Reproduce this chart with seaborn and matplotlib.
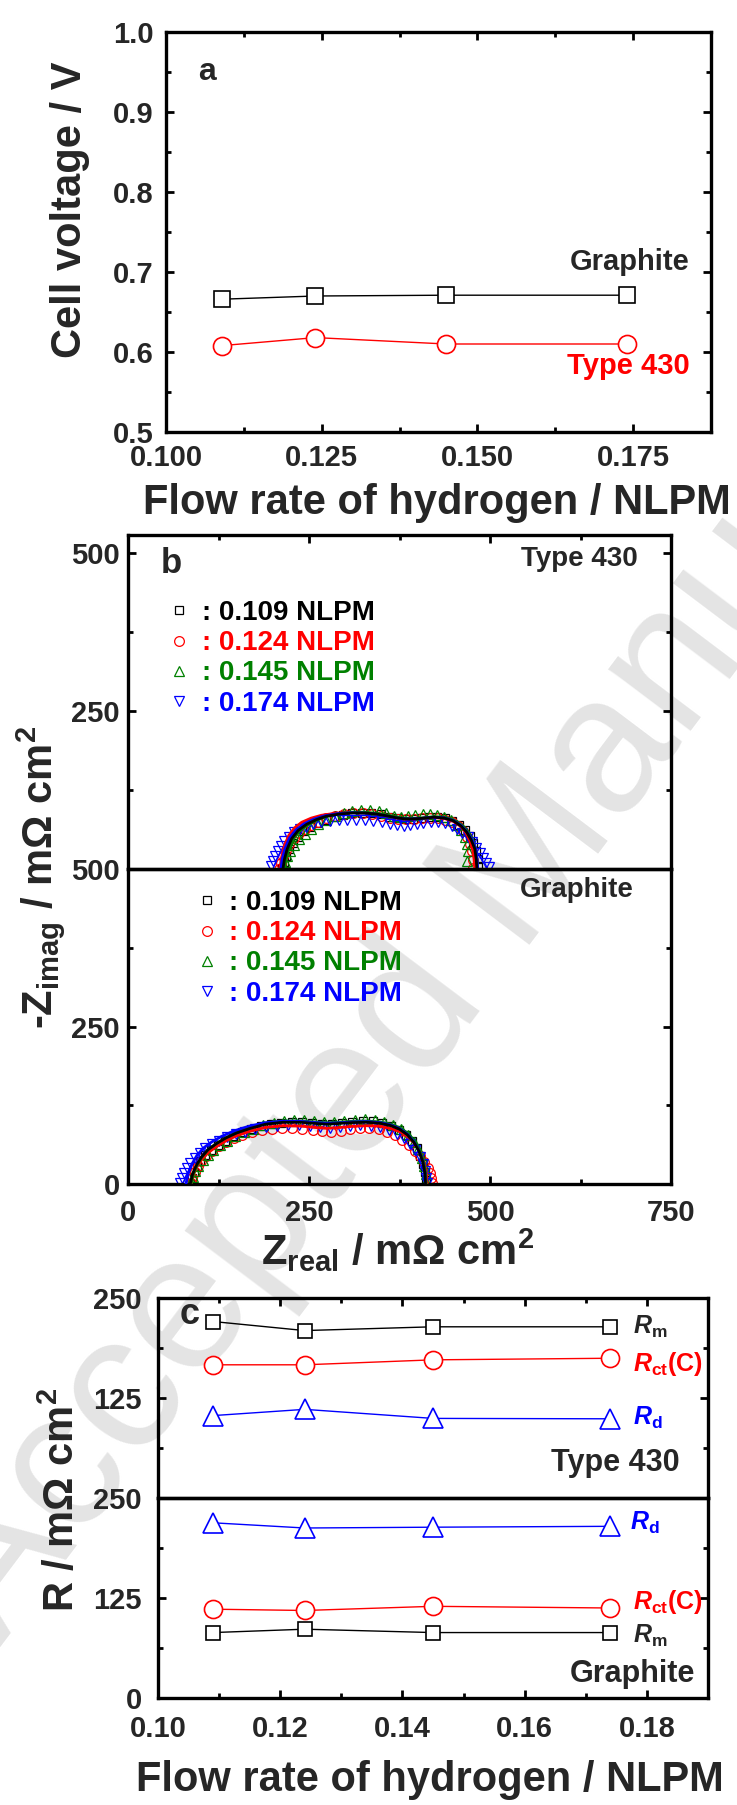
import matplotlib
matplotlib.use("Agg")
import matplotlib.pyplot as plt
import seaborn as sns
import numpy as np
import pandas as pd
from matplotlib.ticker import MultipleLocator, FixedLocator, FormatStrFormatter, NullFormatter

sns.set_theme(style="ticks")
plt.rcParams["font.family"] = ["Liberation Sans", "DejaVu Sans"]
plt.rcParams["font.weight"] = "bold"
plt.rcParams["mathtext.fontset"] = "custom"
plt.rcParams["mathtext.rm"] = "Liberation Sans:bold"
plt.rcParams["mathtext.bf"] = "Liberation Sans:bold"
plt.rcParams["mathtext.it"] = "Liberation Sans:bold:italic"

# ---------------- data ----------------
flow = [0.109, 0.124, 0.145, 0.174]
volt_graphite = [0.666, 0.670, 0.671, 0.671]
volt_430 = [0.608, 0.618, 0.610, 0.610]

c430_Rm = [220.6, 209.3, 214.0, 214.0]
c430_Rct = [166.5, 166.5, 172.7, 174.7]
c430_Rd = [103.0, 110.8, 99.5, 99.0]
cgr_Rd = [219.0, 212.5, 213.5, 214.6]
cgr_Rct = [111.0, 109.4, 114.6, 112.5]
cgr_Rm = [81.8, 86.0, 81.8, 81.8]

legend_labels = [": 0.109 NLPM", ": 0.124 NLPM", ": 0.145 NLPM", ": 0.174 NLPM"]

# Type 430 Nyquist: fitted lines
t430_fit_k_zr = [214, 216, 220, 226, 235, 247, 260, 274, 292, 311, 328, 343, 358, 371, 381, 390, 405, 422, 437, 449, 460, 468, 474, 479, 481, 482]
t430_fit_k_zi = [0, 15, 32, 48, 61, 71, 78, 83.5, 87, 88.7, 88.5, 87, 84, 81, 79.5, 79, 80, 82, 80.5, 76.5, 68, 58, 46, 32, 15, 0]
t430_fit_r_zr = [210, 212, 216, 222, 230, 240, 253, 267, 285, 305, 325, 343, 358, 371, 383, 393, 408, 423, 438, 450, 460, 467, 472, 476, 478, 479]
t430_fit_r_zi = [0, 18, 37, 53, 65, 74, 80.5, 85, 88, 89.5, 89, 87, 83.5, 80.5, 79, 79, 80.5, 81.5, 79.5, 75, 67, 57, 45, 31, 15, 0]
t430_fit_g_zr = [216, 218, 222, 228, 237, 249, 262, 276, 294, 313, 330, 345, 360, 373, 383, 392, 407, 424, 439, 451, 462, 470, 476, 480, 482, 483]
t430_fit_g_zi = [0, 14, 31, 47, 60, 70, 78, 84, 88, 90, 89.5, 88, 85, 82, 80.5, 80, 81, 83, 81.5, 77, 69, 59, 47, 33, 16, 0]
t430_fit_b_zr = [211, 213, 217, 223, 232, 244, 257, 271, 289, 308, 326, 341, 356, 369, 380, 389, 404, 421, 436, 449, 460, 468, 475, 480, 482, 483]
t430_fit_b_zi = [0, 16, 33, 49, 62, 72, 79, 84, 87.5, 89, 88.5, 87, 84, 81, 79.5, 79, 80, 82, 81, 77, 69, 59, 47, 33, 16, 0]

# Type 430 Nyquist: measured points
t430_k_zr = [213, 215, 218, 222, 228, 235, 243, 252, 262, 273, 285, 297, 310, 323, 336, 349, 361, 372, 383, 394, 405, 416, 427, 438, 448, 457, 465, 472, 477, 481, 483, 484]
t430_k_zi = [1, 11, 21, 31, 41, 51, 60, 67, 73, 78, 82, 85.5, 88, 89, 88.5, 86.5, 83, 80.5, 79.5, 79.5, 80.5, 82, 82, 80, 76, 70, 62, 52, 41, 29, 16, 4]
t430_r_zr = [209, 211, 214, 218, 223, 229, 236, 244, 253, 263, 274, 286, 298, 311, 324, 337, 350, 362, 373, 384, 395, 406, 417, 428, 438, 448, 456, 463, 468, 472, 475, 476, 476]
t430_r_zi = [0, 10, 20, 30, 40, 49, 57, 64, 70, 75, 80, 84, 87, 88.5, 88.5, 87, 84, 81, 79, 78.5, 79, 80, 81, 80.5, 78, 74, 68, 60, 51, 40, 28, 15, 2]
t430_g_zr = [215, 217, 220, 224, 229, 236, 244, 253, 263, 274, 286, 298, 310, 322, 334, 346, 357, 367, 377, 387, 397, 407, 417, 427, 437, 446, 454, 460, 465, 468, 469, 468]
t430_g_zi = [2, 11, 20, 29, 38, 47, 56, 64, 71, 78, 84, 88, 91, 93, 94, 92, 88, 84, 83, 84, 86, 87, 87, 85, 82, 77, 70, 61, 51, 40, 28, 12]
t430_b_zr = [197, 200, 203, 207, 211, 216, 222, 229, 237, 246, 256, 267, 279, 291, 303, 315, 327, 339, 351, 362, 372, 381, 390, 399, 408, 418, 428, 438, 447, 455, 462, 469, 475, 481, 486, 491, 495, 498]
t430_b_zi = [4, 12, 20, 28, 36, 44, 51, 58, 63, 67, 71, 74, 76, 77.5, 78, 78, 77.5, 76, 74, 71, 69, 68.5, 69, 71, 73, 74, 74, 72, 68, 63, 57, 50, 42, 34, 26, 18, 10, 3]

# Graphite Nyquist: fitted lines
gr_fit_k_zr = [86, 89, 94, 101, 110, 122, 135, 150, 168, 190, 214, 238, 260, 275, 290, 310, 330, 348, 362, 375, 386, 395, 402, 407, 410, 411]
gr_fit_k_zi = [0, 15, 29, 42, 54, 64, 73, 81, 88, 95, 98, 98, 96, 95, 96, 97.5, 98, 96.5, 93, 87, 78, 66, 52, 36, 18, 0]
gr_fit_r_zr = [87, 90, 95, 102, 111, 123, 136, 151, 169, 191, 214, 238, 260, 275, 290, 310, 330, 348, 363, 376, 387, 396, 404, 409, 412, 413]
gr_fit_r_zi = [0, 14, 27, 39, 50, 60, 69, 77, 84, 90, 92.5, 92, 89.5, 88.5, 89.5, 91.5, 92.5, 91.5, 88, 83, 75, 64, 50, 35, 18, 0]
gr_fit_g_zr = [87, 90, 95, 102, 111, 123, 136, 151, 169, 191, 214, 238, 260, 275, 290, 310, 330, 348, 363, 376, 387, 396, 403, 408, 411, 412]
gr_fit_g_zi = [0, 15, 29, 43, 55, 65, 74, 82, 90, 97, 100, 100, 98, 97, 98, 99.5, 100, 98.5, 95, 89, 80, 68, 53, 37, 18, 0]
gr_fit_b_zr = [80, 83, 88, 95, 104, 116, 130, 146, 165, 188, 212, 236, 258, 274, 290, 310, 330, 348, 362, 375, 386, 395, 402, 407, 410, 411]
gr_fit_b_zi = [0, 16, 31, 45, 57, 67, 76, 84, 91, 97, 99.5, 99.5, 97.5, 96.5, 97, 98.5, 99, 97.5, 94, 88, 79, 67, 52, 36, 18, 0]

# Graphite Nyquist: measured points
gr_k_zr = [86, 88, 91, 95, 100, 107, 115, 124, 134, 145, 157, 170, 184, 198, 212, 226, 240, 254, 268, 282, 296, 310, 324, 338, 351, 363, 374, 384, 392, 399, 404, 408, 410, 411]
gr_k_zi = [1, 10, 19, 28, 37, 46, 54, 62, 69, 76, 82, 87, 91.5, 95, 97, 98, 98, 97, 95.5, 95.5, 97, 99, 100, 99.5, 97, 92, 86, 78, 68, 57, 45, 32, 19, 6]
gr_r_zr = [87, 89, 92, 96, 101, 108, 116, 125, 135, 146, 158, 171, 185, 199, 213, 227, 241, 255, 268, 281, 294, 307, 320, 333, 346, 358, 369, 379, 388, 396, 403, 409, 414, 417, 419, 420]
gr_r_zi = [1, 10, 19, 28, 37, 45, 53, 60, 67, 73, 78, 82, 85.5, 88, 89, 89, 88, 86, 84, 83, 84.5, 87, 88.5, 88.5, 87, 83, 77, 70, 62, 53, 44, 35, 26, 17, 9, 2]
gr_g_zr = [88, 90, 93, 97, 103, 110, 118, 127, 137, 148, 160, 173, 187, 201, 215, 229, 243, 257, 271, 285, 299, 313, 327, 341, 354, 366, 377, 387, 395, 401, 406, 409, 411, 412]
gr_g_zi = [2, 11, 20, 29, 38, 46, 54, 62, 69, 76, 82, 88, 93, 97, 100, 102, 102, 100, 98, 98, 100, 102, 103, 102, 99, 94, 87, 78, 67, 55, 42, 29, 16, 4]
gr_b_zr = [72, 74, 77, 81, 86, 92, 99, 107, 116, 126, 137, 149, 162, 176, 191, 206, 221, 236, 251, 265, 279, 293, 307, 321, 335, 348, 360, 371, 381, 390, 397, 403, 407, 410, 412, 413]
gr_b_zi = [2, 10, 18, 26, 34, 42, 50, 57, 63, 69, 74, 79, 83, 87, 90, 92, 93, 93, 92, 90, 89, 90, 92, 93, 92.5, 90, 86, 80, 73, 64, 54, 43, 32, 20, 10, 2]

# ---------------- styling ----------------
W, H = 737, 1805
fig = plt.figure(figsize=(W / 100, H / 100), dpi=100)

RED, GREEN, BLUE, BLACK = "#ff0000", "#008000", "#0000ff", "#000000"
SPW = 2.4
TICK_FS = 21


def box(left, top, right, bottom):
    return [left / W, 1 - bottom / H, (right - left) / W, (bottom - top) / H]


def style_axes(ax, xpad, ypad):
    ax.set_facecolor("none")
    for s in ax.spines.values():
        s.set_linewidth(SPW)
        s.set_color("black")
        s.set_visible(True)
    ax.tick_params(which="both", direction="in", top=True, right=True, color="black")
    ax.tick_params(which="major", length=6, width=2)
    ax.tick_params(which="minor", length=3.5, width=2)
    ax.tick_params(axis="x", which="major", pad=xpad, labelsize=TICK_FS)
    ax.tick_params(axis="y", which="major", pad=ypad, labelsize=TICK_FS)
    for lab in ax.get_xticklabels() + ax.get_yticklabels():
        lab.set_fontweight("bold")
    ax.set_xlabel("")
    ax.set_ylabel("")


# watermark (background)
fig.text(0 / W, 1 - 1648 / H, "Accepted Manuscript", rotation=53, rotation_mode="anchor",
         ha="left", va="baseline", fontsize=140, fontweight="normal", color="#e4e4e4",
         zorder=-5)

# ---------------- panel a ----------------
axa = fig.add_axes(box(166, 32, 711, 432))
df_a = pd.DataFrame({"flow": flow, "graphite": volt_graphite, "t430": volt_430})
sns.lineplot(data=df_a, x="flow", y="graphite", ax=axa, color=BLACK, lw=1,
             marker="s", markersize=11, markerfacecolor="white",
             markeredgecolor=BLACK, markeredgewidth=1.2, estimator=None, sort=False)
sns.lineplot(data=df_a, x="flow", y="t430", ax=axa, color=RED, lw=1,
             marker="o", markersize=13, markerfacecolor="white",
             markeredgecolor=RED, markeredgewidth=1.2, estimator=None, sort=False)
axa.set_xlim(0.1, 0.1875)
axa.set_ylim(0.5, 1.0)
axa.xaxis.set_major_locator(FixedLocator([0.1, 0.125, 0.15, 0.175]))
axa.xaxis.set_minor_locator(FixedLocator([0.1125, 0.1375, 0.1625]))
axa.xaxis.set_major_formatter(FormatStrFormatter("%.3f"))
axa.yaxis.set_major_locator(MultipleLocator(0.1))
axa.yaxis.set_minor_locator(MultipleLocator(0.05))
axa.yaxis.set_major_formatter(FormatStrFormatter("%.1f"))
style_axes(axa, 9, 9)
axa.text(0.1066, 0.950, "a", ha="center", va="center", fontsize=23, fontweight="bold")
axa.text(0.1841, 0.712, "Graphite", ha="right", va="center", fontsize=21, fontweight="bold")
axa.text(0.1841, 0.583, "Type 430", ha="right", va="center", fontsize=21,
         fontweight="bold", color=RED)
fig.text(70 / W, 1 - 210 / H, "Cell voltage / V", rotation=90, ha="center", va="center",
         fontsize=30, fontweight="bold")
fig.text(437 / W, 1 - 503 / H, "Flow rate of hydrogen / NLPM", ha="center", va="center",
         fontsize=30, fontweight="bold")

# ---------------- panel b ----------------
axb1 = fig.add_axes(box(128, 535, 671, 869))
axb2 = fig.add_axes(box(128, 869, 671, 1184))

specs = [(BLACK, "s", 6), (RED, "o", 7), (GREEN, "^", 7.5), (BLUE, "v", 7.5)]


def nyquist(ax, pts, fits):
    handles = []
    for (zr, zi), (col, mk, ms), lab in zip(pts, specs, legend_labels):
        h, = ax.plot(zr, zi, ls="none", marker=mk, ms=ms, mfc="none", mec=col, mew=0.9,
                     label=lab, zorder=2)
        handles.append(h)
    for (zr, zi), col in zip(fits, [RED, GREEN, BLUE, BLACK]):
        df = pd.DataFrame({"zr": zr, "zi": zi})
        sns.lineplot(data=df, x="zr", y="zi", ax=ax, color=col, lw=2, sort=False,
                     estimator=None, zorder=3)
    return handles


h1 = nyquist(axb1,
             [(t430_k_zr, t430_k_zi), (t430_r_zr, t430_r_zi), (t430_g_zr, t430_g_zi), (t430_b_zr, t430_b_zi)],
             [(t430_fit_r_zr, t430_fit_r_zi), (t430_fit_g_zr, t430_fit_g_zi),
              (t430_fit_b_zr, t430_fit_b_zi), (t430_fit_k_zr, t430_fit_k_zi)])
h2 = nyquist(axb2,
             [(gr_k_zr, gr_k_zi), (gr_r_zr, gr_r_zi), (gr_g_zr, gr_g_zi), (gr_b_zr, gr_b_zi)],
             [(gr_fit_r_zr, gr_fit_r_zi), (gr_fit_g_zr, gr_fit_g_zi),
              (gr_fit_b_zr, gr_fit_b_zi), (gr_fit_k_zr, gr_fit_k_zi)])

for ax in (axb1, axb2):
    ax.set_xlim(0, 750)
    ax.xaxis.set_major_locator(MultipleLocator(250))
    ax.xaxis.set_minor_locator(MultipleLocator(125))
axb1.set_ylim(0, 528.5)
axb1.yaxis.set_major_locator(FixedLocator([0, 250, 500]))
axb1.yaxis.set_minor_locator(FixedLocator([125, 375]))
axb2.set_ylim(0, 500)
axb2.yaxis.set_major_locator(FixedLocator([0, 250, 500]))
axb2.yaxis.set_minor_locator(FixedLocator([125, 375]))
style_axes(axb1, 11, 6)
style_axes(axb2, 11, 6)
axb1.tick_params(axis="x", which="both", bottom=False, labelbottom=False)
axb1.yaxis.set_major_formatter(plt.FuncFormatter(lambda v, p: "" if v == 0 else f"{v:.0f}"))
axb2.tick_params(axis="x", which="both", top=False)

colors4 = [BLACK, RED, GREEN, BLUE]
leg1 = axb1.legend(handles=h1, loc="upper left", bbox_to_anchor=(0.069, 0.805),
                   frameon=False, labelcolor=colors4, handlelength=1.0,
                   handletextpad=0.3, labelspacing=0.15, borderpad=0, borderaxespad=0,
                   prop={"weight": "bold", "size": 20})
leg2 = axb2.legend(handles=h2, loc="upper left", bbox_to_anchor=(0.12, 0.933),
                   frameon=False, labelcolor=colors4, handlelength=1.0,
                   handletextpad=0.3, labelspacing=0.15, borderpad=0, borderaxespad=0,
                   prop={"weight": "bold", "size": 20})

axb1.text(60, 484, "b", ha="center", va="center", fontsize=25, fontweight="bold")
axb1.text(704, 490, "Type 430", ha="right", va="center", fontsize=20, fontweight="bold")
axb2.text(699, 466, "Graphite", ha="right", va="center", fontsize=20, fontweight="bold")

fig.text(41 / W, 1 - 877 / H, r"-$\mathrm{Z_{imag}}$ / m$\Omega$ cm$^{\mathrm{2}}$", rotation=90,
         ha="center", va="center", fontsize=30, fontweight="bold")
fig.text(398 / W, 1 - 1250 / H, r"$\mathrm{Z_{real}}$ / m$\Omega$ cm$^{\mathrm{2}}$",
         ha="center", va="center", fontsize=30, fontweight="bold")

# ---------------- panel c ----------------
axc1 = fig.add_axes(box(158, 1298, 708, 1498))
axc2 = fig.add_axes(box(158, 1498, 708, 1698))


def rplot(ax, vals, col, mk, ms):
    df = pd.DataFrame({"flow": flow, "r": vals})
    sns.lineplot(data=df, x="flow", y="r", ax=ax, color=col, lw=1, marker=mk, markersize=ms,
                 markerfacecolor="white", markeredgecolor=col, markeredgewidth=1.2,
                 estimator=None, sort=False)


rplot(axc1, c430_Rm, BLACK, "s", 10.5)
rplot(axc1, c430_Rct, RED, "o", 13)
rplot(axc1, c430_Rd, BLUE, "^", 14)
rplot(axc2, cgr_Rd, BLUE, "^", 14)
rplot(axc2, cgr_Rct, RED, "o", 13)
rplot(axc2, cgr_Rm, BLACK, "s", 10.5)

for ax in (axc1, axc2):
    ax.set_xlim(0.10, 0.19)
    ax.set_ylim(0, 250)
    ax.xaxis.set_major_locator(FixedLocator([0.10, 0.12, 0.14, 0.16, 0.18]))
    ax.xaxis.set_minor_locator(FixedLocator([0.11, 0.13, 0.15, 0.17]))
    ax.xaxis.set_major_formatter(FormatStrFormatter("%.2f"))
    ax.yaxis.set_major_locator(FixedLocator([0, 125, 250]))
    ax.yaxis.set_minor_locator(FixedLocator([62.5, 187.5]))
style_axes(axc1, 12, 11.5)
style_axes(axc2, 12, 11.5)
axc1.tick_params(axis="x", which="both", bottom=False, labelbottom=False)
axc1.yaxis.set_major_formatter(plt.FuncFormatter(lambda v, p: "" if v == 0 else f"{v:.0f}"))
axc2.tick_params(axis="x", which="both", top=False)

axc1.text(0.1035, 229, "c", ha="left", va="center", fontsize=26, fontweight="bold")
axc1.text(0.1777, 214, r"$R_\mathrm{m}$", ha="left", va="center", fontsize=18)
axc1.text(0.1777, 167.5, r"$R_\mathrm{ct}$(C)", ha="left", va="center", fontsize=18,
          color=RED, fontweight="bold")
axc1.text(0.1777, 100.5, r"$R_\mathrm{d}$", ha="left", va="center", fontsize=18, color=BLUE)
axc1.text(0.1854, 43.8, "Type 430", ha="right", va="center", fontsize=22, fontweight="bold")
axc2.text(0.1772, 219, r"$R_\mathrm{d}$", ha="left", va="center", fontsize=18, color=BLUE)
axc2.text(0.1777, 119.8, r"$R_\mathrm{ct}$(C)", ha="left", va="center", fontsize=18,
          color=RED, fontweight="bold")
axc2.text(0.1777, 78.2, r"$R_\mathrm{m}$", ha="left", va="center", fontsize=18)
axc2.text(0.1879, 30, "Graphite", ha="right", va="center", fontsize=22, fontweight="bold")

fig.text(62 / W, 1 - 1500 / H, r"R / m$\Omega$ cm$^{\mathrm{2}}$", rotation=90,
         ha="center", va="center", fontsize=30, fontweight="bold")
fig.text(430 / W, 1 - 1780 / H, "Flow rate of hydrogen / NLPM", ha="center", va="center",
         fontsize=30, fontweight="bold")

fig.savefig("out.png", dpi=100)
